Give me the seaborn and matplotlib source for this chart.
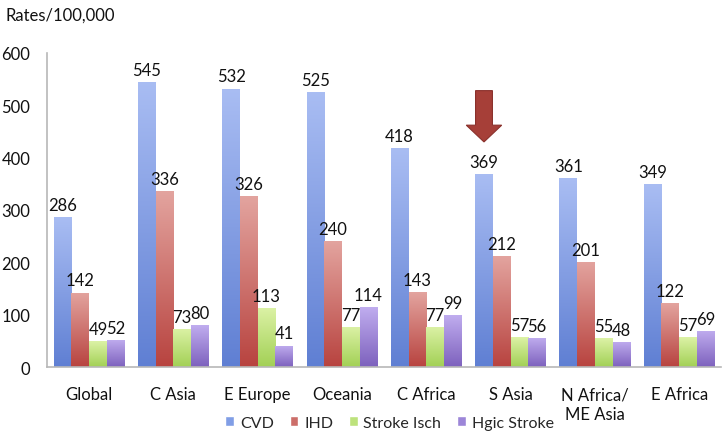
import pandas as pd
import numpy as np
import matplotlib
matplotlib.use('Agg')
import matplotlib.pyplot as plt
from matplotlib.colors import LinearSegmentedColormap
import seaborn as sns

# data
regions = ["Global", "C Asia", "E Europe", "Oceania", "C Africa", "S Asia",
           "N Africa/\nME Asia", "E Africa"]
series = ["CVD", "IHD", "Stroke Isch", "Hgic Stroke"]
cvd = [286, 545, 532, 525, 418, 369, 361, 349]
ihd = [142, 336, 326, 240, 143, 212, 201, 122]
stroke_isch = [49, 73, 113, 77, 77, 57, 55, 57]
hgic_stroke = [52, 80, 41, 114, 99, 56, 48, 69]
colors = ["#819ee6", "#cc6e69", "#bde27c", "#9c86d8"]
# top / bottom shades for the bar gradients
tops = ["#a9bdf3", "#e3a49f", "#dcf2a6", "#c0adef"]
bottoms = ["#5f7fd3", "#b8433f", "#a2d055", "#7d61bd"]

def main():
    df = pd.DataFrame({"region": regions * 4,
                       "series": np.repeat(series, len(regions)),
                       "rate": cvd + ihd + stroke_isch + hgic_stroke})

    sns.set_style("white")
    plt.rcParams['font.family'] = ['Lato', 'DejaVu Sans']

    fig = plt.figure(figsize=(7.22, 4.35), dpi=100)
    ax = fig.add_axes([0.065, 0.154, 0.934, 0.722])

    sns.barplot(data=df, x="region", y="rate", hue="series", order=regions,
                hue_order=series, palette=colors, width=0.84, gap=0,
                saturation=1, ax=ax, errorbar=None, legend=True)

    ax.set_xlim(-0.5, 7.5)
    ax.set_ylim(0, 600)

    # vertical gradient fill per bar (light at top, dark at bottom)
    grad = np.linspace(1, 0, 256).reshape(-1, 1)
    for i, cont in enumerate(ax.containers):
        cmap = LinearSegmentedColormap.from_list(f"g{i}", [bottoms[i], tops[i]])
        for bar in cont:
            x0, w, h = bar.get_x(), bar.get_width(), bar.get_height()
            im = ax.imshow(grad, cmap=cmap, vmin=0, vmax=1, aspect="auto",
                           extent=[x0, x0 + w, 0, h], zorder=bar.get_zorder() + 0.1)
            im.set_clip_path(bar)
            ax.text(x0 + w / 2, h + 8, f"{int(h)}", ha="center", va="bottom",
                    fontsize=12, color="#111111")

    ax.set_xlim(-0.5, 7.5)
    ax.set_ylim(0, 600)

    # arrow pointing at S Asia
    s_idx = regions.index("S Asia")
    b = ax.containers[0][s_idx]
    x_arrow = b.get_x() + b.get_width() / 2
    ax.arrow(x_arrow, 528, 0, -98, width=0.2, head_width=0.42, head_length=32,
             length_includes_head=True, fc="#a63f38", ec="#8a302b", lw=0.8,
             zorder=5)

    ax.set_yticks(range(0, 601, 100))
    ax.set_xlabel("")
    ax.set_ylabel("")
    ax.tick_params(axis="both", length=0, labelsize=12, colors="#111111")
    ax.tick_params(axis="y", pad=12)
    ax.tick_params(axis="x", pad=14)
    for lab in ax.get_xticklabels():
        lab.set_linespacing(1.25)
    for s in ["top", "right"]:
        ax.spines[s].set_visible(False)
    for s in ["left", "bottom"]:
        ax.spines[s].set_color("#b8b8b8")
        ax.spines[s].set_linewidth(1.2)

    fig.text(0.008, 0.965, "Rates/100,000", fontsize=12, ha="left", va="center",
             color="#111111")

    ax.legend(loc="center", bbox_to_anchor=(0.508, -0.177), ncol=4, frameon=False,
              fontsize=11.5, handlelength=0.55, handleheight=0.55, handletextpad=0.35,
              columnspacing=1.0)

    fig.savefig("out.png", dpi=100)
    plt.close(fig)

if __name__ == "__main__":
    main()
